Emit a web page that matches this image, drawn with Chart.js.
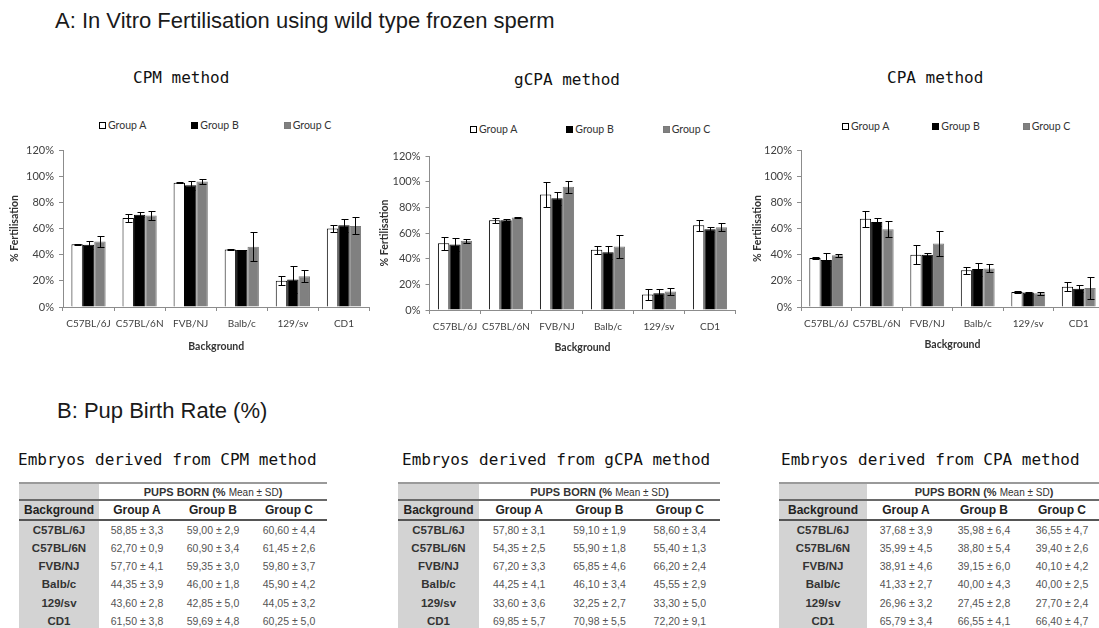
<!DOCTYPE html>
<html>
<head>
<meta charset="utf-8">
<script src="https://cdn.jsdelivr.net/npm/chart.js@4.4.1/dist/chart.umd.min.js"></script>
<style>
  html, body { margin: 0; padding: 0; background: #fff; }
  body { width: 1099px; height: 628px; position: relative; overflow: hidden; font-family: "Liberation Sans", Arial, sans-serif; }
  .head { position: absolute; font-size: 22px; line-height: 26px; color: #1a1a1a; white-space: nowrap; }
  .mono { position: absolute; font-family: "DejaVu Sans Mono", monospace; font-size: 16px; line-height: 20px; color: #111; white-space: nowrap; }
  canvas { position: absolute; }
  .legend { position: absolute; display: flex; font-family: Lato, sans-serif; font-size: 10.5px; color: #333; line-height: 12px; }
  .legend span.item { display: flex; align-items: center; white-space: nowrap; }
  .legend i { display: inline-block; width: 7px; height: 7px; margin-right: 2px; box-sizing: border-box; }
  table { position: absolute; border-collapse: collapse; table-layout: fixed; border-top: 2px solid #9a9a9a; }
  td, th { padding: 0; text-align: center; white-space: nowrap; }
  tr.h1 { height: 17px; border-bottom: 2px solid #6a6a6a; }
  tr.h1 td { font-size: 11px; font-weight: bold; color: #333; }
  tr.h1 td span { font-weight: normal; font-size: 10px; }
  tr.h2 { height: 20px; border-bottom: 2px solid #555; }
  tr.h2 th { font-size: 12px; font-weight: bold; color: #222; }
  tr.row { height: 18.4px; }
  tr.row:last-child { border-bottom: 1px solid #aaa; }
  tr.row td { font-size: 10.5px; color: #555; }
  tr.row td.bg { font-size: 11.5px; font-weight: bold; color: #333; }
  .bg { background: #d3d3d3; }
</style>
</head>
<body>

<div class="head" style="left:55px; top:8px;">A: In Vitro Fertilisation using wild type frozen sperm</div>
<div class="head" style="left:57px; top:398px;">B: Pup Birth Rate (%)</div>

<div class="mono" style="left:133px; top:68px;">CPM method</div>
<div class="mono" style="left:514px; top:70px;">gCPA method</div>
<div class="mono" style="left:887px; top:68px;">CPA method</div>

<div class="legend" id="leg1" style="left:99px; top:119px;"></div>
<div class="legend" id="leg2" style="left:470px; top:123px;"></div>
<div class="legend" id="leg3" style="left:842px; top:120px;"></div>

<canvas id="cpm" width="380" height="225" style="left:0px; top:135px;"></canvas>
<canvas id="gcpa" width="380" height="225" style="left:366px; top:141px;"></canvas>
<canvas id="cpa" width="380" height="225" style="left:738px; top:135px;"></canvas>

<div class="mono" style="left:18px; top:450px;">Embryos derived from CPM method</div>
<div class="mono" style="left:402px; top:450px;">Embryos derived from gCPA method</div>
<div class="mono" style="left:781px; top:450px;">Embryos derived from CPA method</div>

<table id="t1" style="left:19px; top:482px; width:308px;"></table>
<table id="t2" style="left:398px; top:482px; width:322px;"></table>
<table id="t3" style="left:779px; top:482px; width:322px;"></table>

<script>
const backgrounds = ["C57BL/6J", "C57BL/6N", "FVB/NJ", "Balb/c", "129/sv", "CD1"];
const groups = ["Group A", "Group B", "Group C"];
const yTicks = [0, 20, 40, 60, 80, 100, 120];

// % fertilisation, mean and error
const cpmA = [48, 68, 95, 44, 20, 60];
const cpmAErr = [0.5, 3, 0.5, 0.5, 3.5, 3];
const cpmB = [47.5, 70.5, 93, 43.5, 21, 62.5];
const cpmBErr = [3, 2, 3.5, 0.3, 10, 5];
const cpmC = [50, 70, 96, 46, 23.5, 62];
const cpmCErr = [4.5, 3.5, 2, 11, 4.5, 6.5];

const gcpaA = [52, 70, 90, 47, 12, 66];
const gcpaAErr = [5, 2, 10, 3, 4.5, 4.5];
const gcpaB = [51, 70, 87, 45, 13, 63];
const gcpaBErr = [5, 1, 5, 5, 3.5, 2];
const gcpaC = [54, 72, 96, 49.5, 14.5, 64.5];
const gcpaCErr = [1.5, 0.5, 4.5, 9, 2.5, 3];

const cpaA = [37.5, 67.5, 40, 28, 11.5, 15.5];
const cpaAErr = [0.5, 6, 7.5, 2.5, 1, 3.5];
const cpaB = [36, 65, 40, 29, 11, 14];
const cpaBErr = [5, 3, 1.5, 5, 0.5, 2.5];
const cpaC = [39.5, 59.5, 48.5, 29.5, 10.5, 14.5];
const cpaCErr = [1, 6, 9.5, 3, 1, 8.5];

// pups born (% mean ± SD)
const cpmPupsA = ["58,85 ± 3,3", "62,70 ± 0,9", "57,70 ± 4,1", "44,35 ± 3,9", "43,60 ± 2,8", "61,50 ± 3,8"];
const cpmPupsB = ["59,00 ± 2,9", "60,90 ± 3,4", "59,35 ± 3,0", "46,00 ± 1,8", "42,85 ± 5,0", "59,69 ± 4,8"];
const cpmPupsC = ["60,60 ± 4,4", "61,45 ± 2,6", "59,80 ± 3,7", "45,90 ± 4,2", "44,05 ± 3,2", "60,25 ± 5,0"];
const gcpaPupsA = ["57,80 ± 3,1", "54,35 ± 2,5", "67,20 ± 3,3", "44,25 ± 4,1", "33,60 ± 3,6", "69,85 ± 5,7"];
const gcpaPupsB = ["59,10 ± 1,9", "55,90 ± 1,8", "65,85 ± 4,6", "46,10 ± 3,4", "32,25 ± 2,7", "70,98 ± 5,5"];
const gcpaPupsC = ["58,60 ± 3,4", "55,40 ± 1,3", "66,20 ± 2,4", "45,55 ± 2,9", "33,30 ± 5,0", "72,20 ± 9,1"];
const cpaPupsA = ["37,68 ± 3,9", "35,99 ± 4,5", "38,91 ± 4,6", "41,33 ± 2,7", "26,96 ± 3,2", "65,79 ± 3,4"];
const cpaPupsB = ["35,98 ± 6,4", "38,80 ± 5,4", "39,15 ± 6,0", "40,00 ± 4,3", "27,45 ± 2,8", "66,55 ± 4,1"];
const cpaPupsC = ["36,55 ± 4,7", "39,40 ± 2,6", "40,10 ± 4,2", "40,00 ± 2,5", "27,70 ± 2,4", "66,40 ± 4,7"];

const fills = ["#ffffff", "#000000", "#808080"];
const borders = ["#000000", "#000000", "#7a7a7a"];
const axisGrey = "#8c8c8c";

Chart.defaults.font.family = "Lato, sans-serif";
Chart.defaults.color = "#404040";

// draws mean ± error whiskers on top of every bar
const errorBars = {
  id: "errorBars",
  afterDatasetsDraw(chart) {
    const ctx = chart.ctx;
    const y = chart.scales.y;
    ctx.save();
    ctx.strokeStyle = "#000";
    ctx.lineWidth = 1;
    chart.data.datasets.forEach((ds, i) => {
      chart.getDatasetMeta(i).data.forEach((bar, j) => {
        const v = ds.data[j], e = ds.errors[j];
        const top = Math.round(y.getPixelForValue(v + e)) + 0.5;
        const bot = Math.round(y.getPixelForValue(v - e)) + 0.5;
        const x = Math.round(bar.x) + 0.5;
        ctx.beginPath();
        ctx.moveTo(x, top); ctx.lineTo(x, bot);
        ctx.moveTo(x - 3, top); ctx.lineTo(x + 4, top);
        ctx.moveTo(x - 3, bot); ctx.lineTo(x + 4, bot);
        ctx.stroke();
      });
    });
    ctx.restore();
  }
};

function makeChart(id, series, errs, geo) {
  const datasets = series.map((s, i) => ({
    label: groups[i],
    data: s,
    errors: errs[i],
    backgroundColor: fills[i],
    borderColor: borders[i],
    borderWidth: 1,
    categoryPercentage: 0.67,
    barPercentage: 1.0
  }));
  return new Chart(document.getElementById(id), {
    type: "bar",
    data: { labels: backgrounds, datasets: datasets },
    plugins: [errorBars],
    options: {
      responsive: false,
      animation: false,
      layout: { padding: { top: 15, right: geo.right, left: 0, bottom: 0 } },
      plugins: { legend: { display: false }, tooltip: { enabled: false } },
      scales: {
        x: {
          afterFit: (s) => { s.height = geo.xHeight; },
          grid: { drawOnChartArea: false, drawTicks: true, tickLength: 4, color: axisGrey },
          border: { display: true, color: axisGrey },
          ticks: { font: { size: 10 }, padding: 7, maxRotation: 0, autoSkip: false },
          title: { display: true, text: "Background", font: { size: 10.5, weight: "bold" }, color: "#333",
                   padding: { top: 0, bottom: geo.xTitlePad } }
        },
        y: {
          min: 0, max: 120,
          afterFit: (s) => { s.width = geo.yWidth; },
          afterBuildTicks: (s) => { s.ticks = yTicks.map(v => ({ value: v })); },
          grid: { drawOnChartArea: false, drawTicks: true, tickLength: 4, color: axisGrey },
          border: { display: true, color: axisGrey },
          ticks: { font: { size: 11 }, padding: 5, callback: (v) => v + "%" },
          title: { display: true, text: "% Fertilisation", font: { size: 10.5, weight: "bold" }, color: "#333",
                   padding: { top: geo.yTitlePad, bottom: 0 } }
        }
      }
    }
  });
}

makeChart("cpm", [cpmA, cpmB, cpmC], [cpmAErr, cpmBErr, cpmCErr],
  { right: 10.5, yWidth: 63, xHeight: 53, xTitlePad: 6.7, yTitlePad: 8.7 });
makeChart("gcpa", [gcpaA, gcpaB, gcpaC], [gcpaAErr, gcpaBErr, gcpaCErr],
  { right: 10.5, yWidth: 63.5, xHeight: 56, xTitlePad: 11.7, yTitlePad: 12.7 });
makeChart("cpa", [cpaA, cpaB, cpaC], [cpaAErr, cpaBErr, cpaCErr],
  { right: 14, yWidth: 63, xHeight: 53, xTitlePad: 8.7, yTitlePad: 13.4 });

// html legends
function makeLegend(id, gap) {
  const el = document.getElementById(id);
  el.style.gap = gap + "px";
  groups.forEach((g, i) => {
    const item = document.createElement("span");
    item.className = "item";
    const box = document.createElement("i");
    box.style.background = fills[i];
    box.style.border = "1px solid " + borders[i];
    item.appendChild(box);
    item.appendChild(document.createTextNode(g));
    el.appendChild(item);
  });
}
makeLegend("leg1", 45);
makeLegend("leg2", 49);
makeLegend("leg3", 43);

// pup birth tables
function makeTable(id, cols, firstWidth) {
  const t = document.getElementById(id);
  let html = "<colgroup><col style='width:" + firstWidth + "px'><col><col><col></colgroup>";
  html += "<tr class='h1'><td class='bg'></td><td colspan='3'>PUPS BORN (% <span>Mean ± SD</span>)</td></tr>";
  html += "<tr class='h2'><th class='bg'>Background</th>" + groups.map(g => "<th>" + g + "</th>").join("") + "</tr>";
  backgrounds.forEach((b, r) => {
    html += "<tr class='row'><td class='bg'>" + b + "</td>" + cols.map(c => "<td>" + c[r] + "</td>").join("") + "</tr>";
  });
  t.innerHTML = html;
}
makeTable("t1", [cpmPupsA, cpmPupsB, cpmPupsC], 80);
makeTable("t2", [gcpaPupsA, gcpaPupsB, gcpaPupsC], 81);
makeTable("t3", [cpaPupsA, cpaPupsB, cpaPupsC], 88);
</script>
</body>
</html>
